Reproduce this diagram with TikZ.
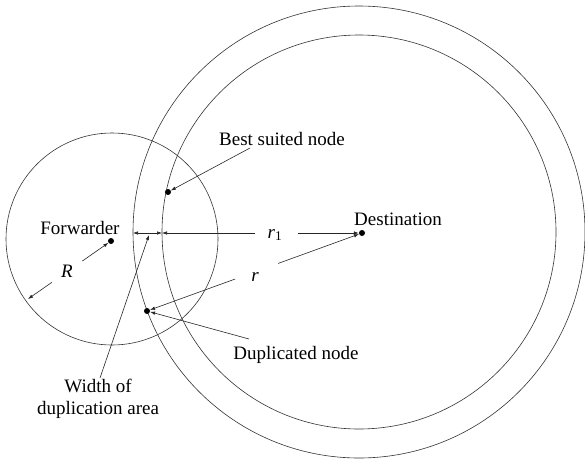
\documentclass[tikz,border=0pt]{standalone}
\usepackage{fontspec}
\setmainfont{Liberation Serif}
\usetikzlibrary{arrows.meta,calc}
\begin{document}
\begin{tikzpicture}[x=1pt,y=-1pt,
  ring/.style={draw=black!80,line width=0.6pt},
  lead/.style={draw=black!85,line width=0.6pt},
  tip/.style={-{Latex[length=5pt,width=3.5pt]}},
  dot/.style={circle,fill=black,inner sep=0pt,minimum size=6pt},
  lbl/.style={font=\fontsize{19}{22}\selectfont,inner sep=0pt,anchor=base}]
\useasboundingbox (0,0) rectangle (585,466);

% transmission ranges
\coordinate (C) at (359,232);
\coordinate (F) at (112,239);
\draw[ring] (C) circle[radius=226];
\draw[ring] (C) circle[radius=197];
\draw[ring] (F) circle[radius=106];

% nodes
\node[dot] (dest) at (362,233) {};
\node[dot] (fwd)  at (111,241) {};
\node[dot] (best) at (168,192) {};
\node[dot] (dup)  at (147,311) {};

% labels
\node[lbl] (destL) at (398,225) {Destination};
\node[lbl] (fwdL)  at (80,234)  {Forwarder};
\node[lbl] (bestL) at (282,145) {Best suited node};
\node[lbl] (dupL)  at (296,359) {Duplicated node};
\node[lbl,align=center] (widL) at (98,414) {Width of\\duplication area};
\node[lbl] (RL)  at (67,277)  {\textit{R}};
\node[lbl] (r1L) at (275,238) {\textit{r}\textsubscript{1}};
\node[lbl] (rL)  at (255,281) {\textit{r}};

% radius R of the forwarder
\coordinate (Redge) at (28,299);
\draw[lead,tip] ($(fwd)!0.345!(Redge)$) -- (fwd);
\draw[lead,tip] ($(fwd)!0.714!(Redge)$) -- (Redge);

% width of the duplication area and r1
\coordinate (outerL) at (133,233);
\coordinate (innerL) at (162,233);
\coordinate (wmid)   at (148,233);
\draw[lead,tip] (wmid) -- (outerL);
\draw[lead,tip] (wmid) -- (innerL);
\draw[lead,tip] (255,233) -- (innerL);
\draw[lead,tip] (298,233) -- (dest);
\coordinate (widA) at (100,378);
\draw[lead,tip] (widA) -- (149,235);

% radius r to the duplicated node
\draw[lead,tip] ($(dest)!0.39!(dup)$) -- (dest);
\draw[lead,tip] ($(dest)!0.59!(dup)$) -- (dup);

% leaders from the labels
\coordinate (bestA) at (250,148);
\draw[lead,tip] (bestA) -- (best);
\coordinate (dupA) at (249,339);
\draw[lead,tip] (dupA) -- (dup);
\end{tikzpicture}
\end{document}
